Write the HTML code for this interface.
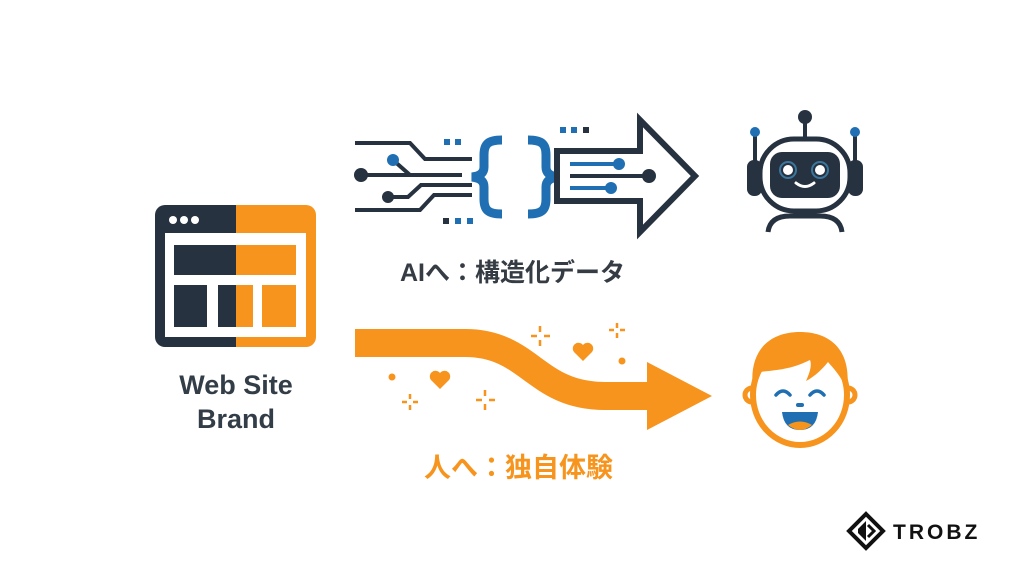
<!DOCTYPE html>
<html><head><meta charset="utf-8"><style>
html,body{margin:0;padding:0;background:#fff;width:1024px;height:572px;overflow:hidden}
svg{display:block}
text{font-family:"Liberation Sans","Noto Sans CJK JP",sans-serif;font-weight:bold}
</style></head><body>
<svg width="1024" height="572" viewBox="0 0 1024 572" xmlns="http://www.w3.org/2000/svg">
<rect width="1024" height="572" fill="#fff"/>
<defs><clipPath id="cl"><rect x="0" y="0" width="236" height="572"/></clipPath><clipPath id="cr"><rect x="236" y="0" width="400" height="572"/></clipPath></defs>
<g clip-path="url(#cr)"><rect x="155" y="205" width="161" height="142" rx="10" fill="#f7941d"/></g>
<g clip-path="url(#cl)"><rect x="155" y="205" width="161" height="142" rx="10" fill="#263240"/></g>
<circle cx="173" cy="220" r="4" fill="#fff"/><circle cx="184" cy="220" r="4" fill="#fff"/><circle cx="195" cy="220" r="4" fill="#fff"/>
<rect x="165" y="233" width="141" height="104" fill="#fff"/>
<rect x="174" y="245" width="62" height="30" fill="#263240"/><rect x="236" y="245" width="60" height="30" fill="#f7941d"/>
<rect x="174" y="285" width="33" height="42" fill="#263240"/>
<rect x="218" y="285" width="18" height="42" fill="#263240"/><rect x="236" y="285" width="17" height="42" fill="#f7941d"/>
<rect x="262" y="285" width="34" height="42" fill="#f7941d"/>
<text x="236" y="394" font-size="27" fill="#333d47" text-anchor="middle">Web Site</text>
<text x="236" y="428" font-size="27" fill="#333d47" text-anchor="middle">Brand</text>
<g fill="none" stroke="#263240" stroke-width="4">
<polyline points="355,143 410,143 425,159 472,159"/>
<line x1="361" y1="175" x2="462" y2="175"/>
<polyline points="388,197 408,197 421,185 472,185"/>
<polyline points="355,210 420,210 434,195 472,195"/>
</g>
<line x1="393" y1="160" x2="410" y2="175" stroke="#263240" stroke-width="4"/>
<circle cx="393" cy="160" r="6" fill="#1f6fb2"/>
<circle cx="361" cy="175" r="7" fill="#263240"/>
<circle cx="388" cy="197" r="6" fill="#263240"/>
<rect x="444" y="139" width="6" height="6" fill="#1f6fb2"/><rect x="455" y="139" width="6" height="6" fill="#1f6fb2"/>
<rect x="443" y="218" width="6" height="6" fill="#263240"/><rect x="455" y="218" width="6" height="6" fill="#1f6fb2"/><rect x="467" y="218" width="6" height="6" fill="#1f6fb2"/>
<rect x="560" y="127" width="6" height="6" fill="#1f6fb2"/><rect x="571" y="127" width="6" height="6" fill="#1f6fb2"/><rect x="583" y="127" width="6" height="6" fill="#263240"/>
<g fill="none" stroke="#1f6fb2" stroke-width="9" stroke-linecap="butt">
<path d="M502,140 C488,140 484,144 484,155 L484,167 C484,173 480,176 472,177 C480,178 484,181 484,187 L484,199 C484,210 488,214 502,214"/>
<path d="M528,140 C542,140 546,144 546,155 L546,167 C546,173 550,176 558,177 C550,178 546,181 546,187 L546,199 C546,210 542,214 528,214"/>
</g>
<polygon points="557,151 640,151 640,120 695,176 640,232 640,201 557,201" fill="none" stroke="#263240" stroke-width="6" stroke-linejoin="miter"/>
<line x1="570" y1="164" x2="618" y2="164" stroke="#1f6fb2" stroke-width="4"/><circle cx="619" cy="164" r="6" fill="#1f6fb2"/>
<line x1="570" y1="176" x2="648" y2="176" stroke="#263240" stroke-width="4"/><circle cx="649" cy="176" r="7" fill="#263240"/>
<line x1="570" y1="188" x2="610" y2="188" stroke="#1f6fb2" stroke-width="4"/><circle cx="611" cy="188" r="6" fill="#1f6fb2"/>
<text x="400" y="281" font-size="25" fill="#363c44">AIへ：構造化データ</text>
<line x1="805" y1="117" x2="805" y2="140" stroke="#263240" stroke-width="4"/><circle cx="805" cy="117" r="7" fill="#263240"/>
<line x1="755" y1="132" x2="755" y2="165" stroke="#263240" stroke-width="4"/><circle cx="755" cy="132" r="5" fill="#1f6fb2"/>
<line x1="855" y1="132" x2="855" y2="165" stroke="#263240" stroke-width="4"/><circle cx="855" cy="132" r="5" fill="#1f6fb2"/>
<rect x="747" y="160" width="15" height="36" rx="7" fill="#263240"/>
<rect x="848" y="160" width="15" height="36" rx="7" fill="#263240"/>
<rect x="760" y="139" width="90" height="72" rx="34" fill="none" stroke="#263240" stroke-width="5"/>
<rect x="770" y="152" width="70" height="46" rx="12" fill="#263240"/>
<circle cx="788" cy="170" r="5" fill="#fff"/><circle cx="788" cy="170" r="8" fill="none" stroke="#4aa3e0" stroke-width="2" opacity=".6"/>
<circle cx="820" cy="170" r="5" fill="#fff"/><circle cx="820" cy="170" r="8" fill="none" stroke="#4aa3e0" stroke-width="2" opacity=".6"/>
<path d="M796,183 Q805,190 814,183" fill="none" stroke="#fff" stroke-width="3" stroke-linecap="round"/>
<path d="M768,232 Q770,216 790,216 L820,216 Q840,216 842,232" fill="none" stroke="#263240" stroke-width="5"/>
<rect x="795" y="210" width="20" height="8" fill="#263240"/>
<path d="M355,343 L465,343 C530,343 535,396 605,396 L652,396" fill="none" stroke="#f7941d" stroke-width="28"/>
<polygon points="647,362 712,396 647,430" fill="#f7941d"/>
<g fill="#f7941d">
<path d="M440,389 L431,380 A5,5 0 0 1 440,373 A5,5 0 0 1 449,380 Z"/>
<path d="M583,361 L574,352 A5,5 0 0 1 583,345 A5,5 0 0 1 592,352 Z"/>
<circle cx="392" cy="377" r="3.5"/><circle cx="622" cy="361" r="3.5"/>
</g>
<g stroke="#f7941d" stroke-width="2.5">
<path d="M410,394 v5 M410,405 v5 M402,402 h5 M413,402 h5"/>
<path d="M485,390 v6 M485,404 v6 M476,400 h6 M489,400 h6"/>
<path d="M540,326 v6 M540,340 v6 M531,336 h6 M544,336 h6"/>
<path d="M617,323 v5 M617,333 v5 M609,330 h5 M620,330 h5"/>
</g>
<circle cx="752" cy="395" r="7" fill="#fff" stroke="#f7941d" stroke-width="5"/>
<circle cx="848" cy="395" r="7" fill="#fff" stroke="#f7941d" stroke-width="5"/>
<ellipse cx="800" cy="395" rx="47" ry="50" fill="#fff" stroke="#f7941d" stroke-width="6"/>
<path d="M753,390 C748,350 770,332 800,332 C832,332 852,352 847,390 C840,375 835,370 828,362 C820,372 812,378 806,381 C810,372 812,365 810,360 C790,370 775,370 760,372 Z" fill="#f7941d"/>
<path d="M776,395 Q783,387 790,395 M810,395 Q817,387 824,395" fill="none" stroke="#1f6fb2" stroke-width="3.5" stroke-linecap="round"/>
<rect x="796" y="403" width="8" height="4" rx="2" fill="#1f6fb2"/>
<path d="M782,412 L818,412 Q816,430 800,430 Q784,430 782,412 Z" fill="#1f6fb2"/>
<path d="M788,425 Q800,418 812,425 Q806,430 800,430 Q794,430 788,425 Z" fill="#f7941d"/>
<text x="424" y="477" font-size="27" fill="#f7941d">人へ：独自体験</text>
<g transform="translate(866,531)">
<polygon points="0,-17 17,0 0,17 -17,0" fill="none" stroke="#111" stroke-width="4"/>
<polygon points="-8,-2 0,-10 0,10 -8,2" fill="#111"/>
<path d="M2,-6 L8,0 L2,6" fill="none" stroke="#111" stroke-width="3"/>
</g>
<text x="893" y="539" font-size="21" fill="#111" font-weight="normal" letter-spacing="3">TROBZ</text>
</svg>
</body></html>
